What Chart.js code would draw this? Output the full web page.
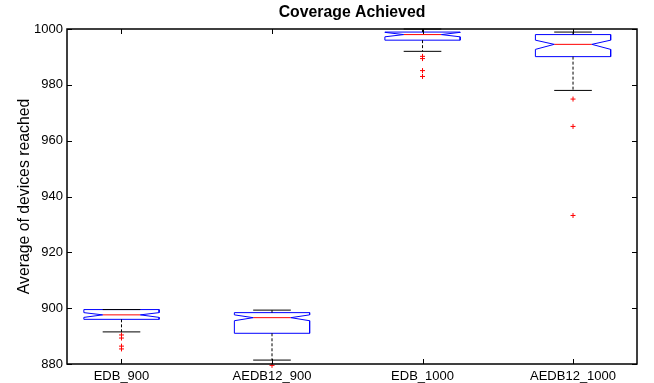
<!DOCTYPE html>
<html><head><meta charset="utf-8">
<script src="https://cdn.jsdelivr.net/npm/chart.js@4.4.1/dist/chart.umd.min.js"></script>
<style>html,body{margin:0;padding:0;background:#fff;}#wrap{width:654px;height:383px;}</style>
</head><body><div id="wrap"><canvas id="c" width="654" height="383"></canvas></div>
<script>
const categories = ['EDB_900', 'AEDB12_900', 'EDB_1000', 'AEDB12_1000'];
const q1 = [896.0, 891.0, 996.0, 990.1];
const q3 = [899.5, 898.4, 998.9, 998.0];
const medians = [897.6, 896.6, 998.0, 994.5];
const notchLo = [896.7, 895.5, 997.2, 992.7];
const notchHi = [898.4, 897.6, 998.8, 996.0];
const whiskerLo = [891.5, 881.4, 992.0, 978.0];
const whiskerHi = [899.5, 899.3, 1000, 998.9];
const outliers = [[890.4, 889.3, 886.4, 885.4], [879.5], [990.2, 989.4, 985.1, 983.0], [974.9, 965.1, 933.2]];
const yTicks = [880, 900, 920, 940, 960, 980, 1000];
const chartTitle = 'Coverage Achieved';
const yTitle = 'Average of devices reached';

const BOX_HALF = 0.25, NOTCH_HALF = 0.125, CAP_HALF = 0.125;
const FONT = "'Liberation Sans', Arial, sans-serif";

const datasets = [];
const seg = (pts, color, dash) => ({
  type: 'scatter', data: pts, showLine: true, borderColor: color, borderWidth: 1,
  borderDash: dash || [], pointRadius: 0, fill: false, tension: 0, clip: false
});
categories.forEach((c, i) => {
  const x = i + 1;
  datasets.push(seg([{x, y: q3[i]}, {x, y: whiskerHi[i]}], '#000', [3, 2]));
  datasets.push(seg([{x, y: q1[i]}, {x, y: whiskerLo[i]}], '#000', [3, 2]));
  datasets.push(seg([{x: x - CAP_HALF, y: whiskerHi[i]}, {x: x + CAP_HALF, y: whiskerHi[i]}], '#000'));
  datasets.push(seg([{x: x - CAP_HALF, y: whiskerLo[i]}, {x: x + CAP_HALF, y: whiskerLo[i]}], '#000'));
  datasets.push(seg([
    {x: x - BOX_HALF, y: q3[i]}, {x: x + BOX_HALF, y: q3[i]},
    {x: x + BOX_HALF, y: notchHi[i]}, {x: x + NOTCH_HALF, y: medians[i]},
    {x: x + BOX_HALF, y: notchLo[i]}, {x: x + BOX_HALF, y: q1[i]},
    {x: x - BOX_HALF, y: q1[i]}, {x: x - BOX_HALF, y: notchLo[i]},
    {x: x - NOTCH_HALF, y: medians[i]}, {x: x - BOX_HALF, y: notchHi[i]},
    {x: x - BOX_HALF, y: q3[i]}
  ], '#0000ff'));
  datasets.push(seg([{x: x - NOTCH_HALF, y: medians[i]}, {x: x + NOTCH_HALF, y: medians[i]}], '#ff0000'));
  datasets.push({
    type: 'scatter', data: outliers[i].map(v => ({x, y: v})), showLine: false,
    pointStyle: 'cross', pointRadius: 2.5, borderColor: '#ff0000', backgroundColor: '#ff0000',
    pointBorderWidth: 1, clip: false
  });
});

const frame = {
  id: 'frame',
  afterDatasetsDraw(chart) {
    const {ctx, chartArea: a, scales: {x, y}} = chart;
    ctx.save();
    ctx.strokeStyle = '#000';
    ctx.lineWidth = 1;
    ctx.beginPath();
    y.ticks.forEach(t => {
      const py = Math.round(y.getPixelForValue(t.value)) + 0.5;
      ctx.moveTo(a.left, py); ctx.lineTo(a.left + 5, py);
      ctx.moveTo(a.right, py); ctx.lineTo(a.right - 5, py);
    });
    x.ticks.forEach(t => {
      const px = Math.round(x.getPixelForValue(t.value)) + 0.5;
      ctx.moveTo(px, a.bottom); ctx.lineTo(px, a.bottom - 5);
      ctx.moveTo(px, a.top); ctx.lineTo(px, a.top + 5);
    });
    ctx.stroke();
    ctx.lineWidth = 1.5;
    ctx.strokeRect(a.left, a.top, a.right - a.left, a.bottom - a.top);
    ctx.fillStyle = '#000';
    ctx.font = "bold 15.8px " + FONT;
    ctx.textAlign = 'center';
    ctx.textBaseline = 'middle';
    ctx.fillText(chartTitle, (a.left + a.right) / 2, 12.5);
    ctx.restore();
  }
};

new Chart(document.getElementById('c'), {
  type: 'scatter',
  data: {datasets},
  options: {
    responsive: false, animation: false, devicePixelRatio: 1,
    layout: {padding: {left: 0, right: 17, top: 29, bottom: 0}},
    plugins: {legend: {display: false}, tooltip: {enabled: false}, title: {display: false}},
    scales: {
      x: {
        type: 'linear', min: 0.638, max: 4.425,
        afterBuildTicks: s => { s.ticks = categories.map((c, i) => ({value: i + 1})); },
        afterFit: s => { s.height = 19; },
        grid: {display: false, drawTicks: false}, border: {display: false},
        ticks: {callback: v => categories[v - 1], autoSkip: false, maxRotation: 0, padding: 5,
          color: '#000', font: {family: FONT, size: 13}}
      },
      y: {
        min: 880, max: 1000,
        afterBuildTicks: s => { s.ticks = yTicks.map(v => ({value: v})); },
        afterFit: s => { s.width = 67; },
        grid: {display: false, drawTicks: false}, border: {display: false},
        ticks: {padding: 4, color: '#000', font: {family: FONT, size: 13}, callback: v => String(v)},
        title: {display: true, text: yTitle, color: '#000',
          font: {family: FONT, size: 15.8}, padding: {top: 15.5, bottom: 0}}
      }
    }
  },
  plugins: [frame]
});
</script>
</body></html>
